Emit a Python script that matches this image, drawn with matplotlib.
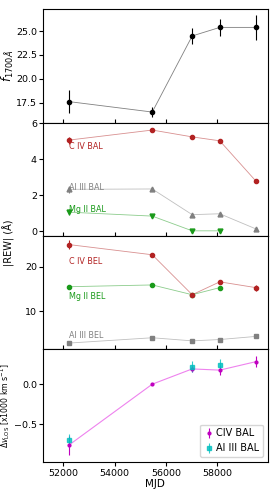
import matplotlib
matplotlib.use("Agg")
from matplotlib import pyplot as plt

plt.rcParams['font.size'] = 7.5
plt.rcParams['xtick.labelsize'] = 6.8
plt.rcParams['ytick.labelsize'] = 6.8
plt.rcParams['xtick.major.size'] = 3
plt.rcParams['ytick.major.size'] = 3
plt.rcParams['xtick.major.pad'] = 2
plt.rcParams['ytick.major.pad'] = 1.5

mjd = [52220, 55470, 57025, 58100, 59500]

# continuum flux
f1700 = [17.6, 16.5, 24.5, 25.4, 25.4]
f1700_err = [1.2, 0.5, 0.8, 0.9, 1.3]

# BAL equivalent widths
civ_bal = [5.07, 5.63, 5.25, 5.03, 2.8]
civ_bal_err = [0.2, 0.05, 0.05, 0.05, 0.08]
al3_bal = [2.33, 2.35, 0.92, 0.97, 0.13]
al3_bal_err = [0.18, 0.05, 0.05, 0.05, 0.03]
mg2_bal = [1.06, 0.84, 0.02, 0.02]
mg2_bal_err = [0.15, 0.05, 0.0, 0.0]

# BEL equivalent widths
civ_bel = [25.0, 22.7, 13.7, 16.6, 15.3]
civ_bel_err = [1.0, 0.3, 0.2, 0.3, 0.7]
mg2_bel = [15.5, 15.9, 13.7, 15.3]
al3_bel = [2.8, 4.0, 3.3, 3.6, 4.3]

# line of sight velocity shifts
dv_civ = [-0.76, 0.0, 0.19, 0.175, 0.28]
dv_civ_err = [0.12, 0.01, 0.04, 0.06, 0.07]
mjd_al3 = [52220, 57025, 58100]
dv_al3 = [-0.70, 0.22, 0.24]
dv_al3_err = [0.08, 0.07, 0.07]

red = '#b22222'
green = '#1a9a1a'
grey = 'grey'

fig, axs = plt.subplots(4, 1, sharex=True, figsize=(2.73, 4.91), dpi=100)
plt.subplots_adjust(left=0.158, right=0.98, top=0.981, bottom=0.059, hspace=0)

ax = axs[0]
ax.plot(mjd, f1700, color='grey', lw=0.6)
ax.errorbar(mjd, f1700, yerr=f1700_err, fmt='o', color='k', ms=3, elinewidth=0.8)
ax.set_ylim(15.4, 27.3)
ax.set_ylabel(r'$f_{1700\AA}$', fontsize=8.5)
ax.yaxis.set_label_coords(-0.122, 0.5)
ax.set_yticks([17.5, 20.0, 22.5, 25.0])

ax = axs[1]
ax.plot(mjd, civ_bal, color=red, lw=0.6, alpha=0.5)
ax.errorbar(mjd, civ_bal, yerr=civ_bal_err, fmt='o', color=red, ms=3, elinewidth=0.8)
ax.plot(mjd, al3_bal, color=grey, lw=0.6, alpha=0.5)
ax.errorbar(mjd, al3_bal, yerr=al3_bal_err, fmt='^', color=grey, ms=3.5, elinewidth=0.8)
ax.plot(mjd[:4], mg2_bal, color=green, lw=0.6, alpha=0.5)
ax.errorbar(mjd[:4], mg2_bal, yerr=mg2_bal_err, fmt='v', color=green, ms=3.5, elinewidth=0.8)
ax.text(0.115, 0.77, 'C IV BAL', transform=ax.transAxes, color=red, fontsize=5.8)
ax.text(0.115, 0.405, 'Al III BAL', transform=ax.transAxes, color=grey, fontsize=5.8)
ax.text(0.115, 0.21, 'Mg II BAL', transform=ax.transAxes, color=green, fontsize=5.8)
ax.set_ylim(-0.25, 6.05)
ax.set_yticks([0, 2, 4, 6])

ax = axs[2]
ax.plot(mjd, civ_bel, color=red, lw=0.6, alpha=0.5)
ax.errorbar(mjd, civ_bel, yerr=civ_bel_err, fmt='o', color=red, ms=3, elinewidth=0.8)
ax.plot(mjd[:4], mg2_bel, color=green, lw=0.6, alpha=0.5)
ax.plot(mjd[:4], mg2_bel, 'o', color=green, ms=3)
ax.plot(mjd, al3_bel, color=grey, lw=0.6, alpha=0.5)
ax.plot(mjd, al3_bel, 's', color=grey, ms=3)
ax.text(0.115, 0.75, 'C IV BEL', transform=ax.transAxes, color=red, fontsize=5.8)
ax.text(0.115, 0.44, 'Mg II BEL', transform=ax.transAxes, color=green, fontsize=5.8)
ax.text(0.115, 0.1, 'Al III BEL', transform=ax.transAxes, color=grey, fontsize=5.8)
ax.set_ylim(1.5, 27)
ax.set_yticks([10, 20])
fig.text(0.032, 0.505, '|REW| (Å)', rotation=90, va='center', ha='center', fontsize=7)

ax = axs[3]
ax.plot(mjd, dv_civ, color='violet', lw=0.8)
ax.errorbar(mjd, dv_civ, yerr=dv_civ_err, fmt='o', color='m', ms=2, elinewidth=0.8, label='CIV BAL')
ax.errorbar(mjd_al3, dv_al3, yerr=dv_al3_err, fmt='s', color='c', ms=3.5, elinewidth=0.8,
            alpha=0.8, label='Al III BAL')
ax.set_ylim(-0.97, 0.44)
ax.set_yticks([-0.5, 0.0])
ax.set_ylabel(r'$\Delta v_{\rm LOS}$ [x1000 km s$^{-1}$]', fontsize=5.6)
ax.yaxis.set_label_coords(-0.138, 0.5)
ax.legend(loc='lower right', handletextpad=0.2, handlelength=1.0, borderpad=0.4, fontsize=7)
ax.set_xlabel('MJD', labelpad=1)
ax.set_xlim(51220, 59960)
ax.set_xticks([52000, 54000, 56000, 58000])

for a in axs[:3]:
    a.tick_params(axis='x', direction='in')

plt.savefig('out.png', dpi=100)
